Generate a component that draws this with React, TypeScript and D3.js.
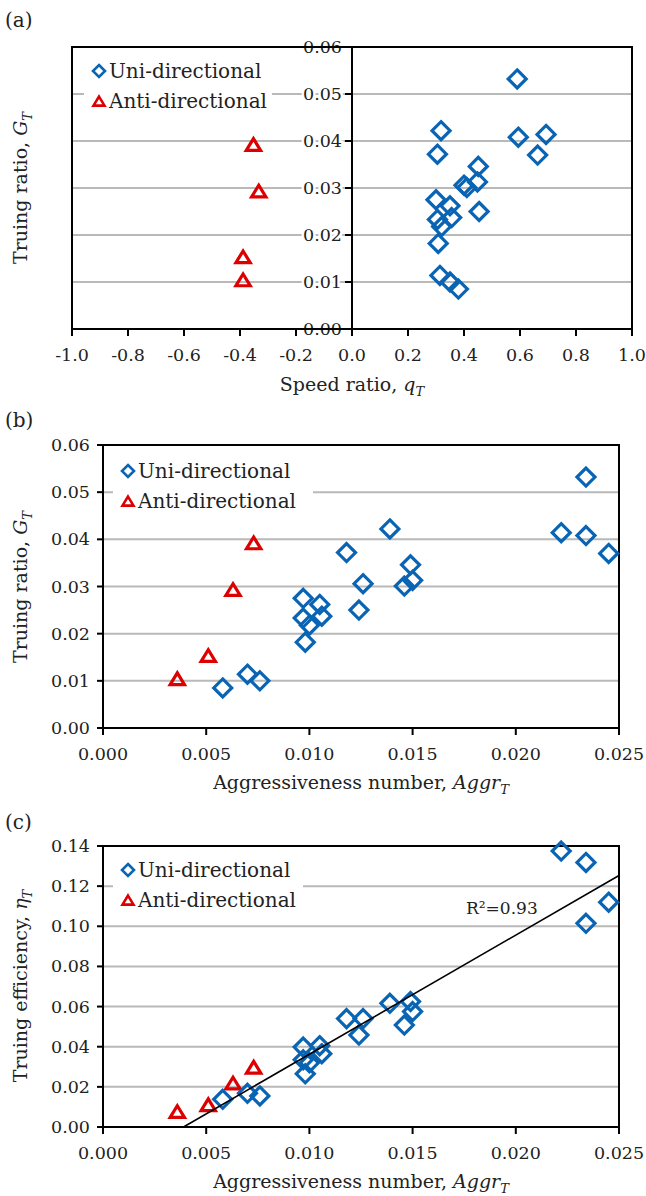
import React from "react";
import * as d3 from "d3";

// ---- data ----
const uniQ = [0.38, 0.314, 0.35, 0.308, 0.32, 0.305, 0.356, 0.35, 0.3, 0.454, 0.4, 0.41, 0.448, 0.451, 0.305, 0.318, 0.693, 0.594, 0.663, 0.59];
const uniAggr = [0.0058, 0.007, 0.0076, 0.0098, 0.01, 0.0097, 0.0106, 0.0105, 0.0097, 0.0124, 0.0126, 0.0146, 0.015, 0.0149, 0.0118, 0.0139, 0.0222, 0.0234, 0.0245, 0.0234];
const uniG = [0.0085, 0.0114, 0.01, 0.0182, 0.0218, 0.0233, 0.0237, 0.0262, 0.0275, 0.025, 0.0306, 0.0301, 0.0313, 0.0346, 0.0372, 0.0422, 0.0414, 0.0408, 0.037, 0.0532];
const uniEta = [0.0138, 0.0168, 0.0155, 0.0265, 0.032, 0.0335, 0.0365, 0.0405, 0.0398, 0.0458, 0.054, 0.0508, 0.0575, 0.0625, 0.054, 0.0616, 0.1375, 0.1318, 0.112, 0.1015];

const antiQ = [-0.389, -0.389, -0.333, -0.352];
const antiAggr = [0.0036, 0.0051, 0.0063, 0.0073];
const antiG = [0.0102, 0.0151, 0.0291, 0.039];
const antiEta = [0.0071, 0.0105, 0.0213, 0.0292];

const fitSlope = 5.94;
const fitIntercept = -0.02317;
const fitLabel = "R²=0.93";

const qTicks = [-1.0, -0.8, -0.6, -0.4, -0.2, 0.0, 0.2, 0.4, 0.6, 0.8, 1.0];
const aggrTicks = [0, 0.005, 0.01, 0.015, 0.02, 0.025];
const gTicks = [0, 0.01, 0.02, 0.03, 0.04, 0.05, 0.06];
const etaTicks = [0, 0.02, 0.04, 0.06, 0.08, 0.1, 0.12, 0.14];

const seriesNames = ["Uni-directional", "Anti-directional"];

// ---- styles ----
const BLUE = "#0a64b4";
const RED = "#dd0000";
const GRID = "#b9b9b9";
const FONT = "DejaVu Serif";

const diamondPath = (r: number) => `M0,${-r}L${r},0L0,${r}L${-r},0Z`;
const trianglePath = (s: number) => {
  const h = s * 0.9;
  return `M0,${-h * 0.6}L${s * 0.55},${h * 0.4}L${-s * 0.55},${h * 0.4}Z`;
};

function Diamond({ x, y, r = 9 }: { x: number; y: number; r?: number }) {
  return <path d={diamondPath(r)} transform={`translate(${x},${y})`} fill="none" stroke={BLUE} strokeWidth={3.2} strokeLinejoin="miter" />;
}
function Triangle({ x, y, s = 13 }: { x: number; y: number; s?: number }) {
  return <path d={trianglePath(s)} transform={`translate(${x},${y})`} fill="none" stroke={RED} strokeWidth={3.2} strokeLinejoin="miter" />;
}

function Legend({ x, y, w, h }: { x: number; y: number; w: number; h: number }) {
  return (
    <g>
      <rect x={x} y={y} width={w} height={h} fill="#fff" />
      <path d={diamondPath(6)} transform={`translate(${x + 15},${y + 16})`} fill="none" stroke={BLUE} strokeWidth={2.6} />
      <text x={x + 25} y={y + 23} fontSize={20} fontFamily={FONT} fill="#222">{seriesNames[0]}</text>
      <path d={trianglePath(10)} transform={`translate(${x + 15},${y + 47})`} fill="none" stroke={RED} strokeWidth={2.6} />
      <text x={x + 25} y={y + 53} fontSize={20} fontFamily={FONT} fill="#222">{seriesNames[1]}</text>
    </g>
  );
}

function SubTitle({ x, y, main, ital, rotate = false }: { x: number; y: number; main: string; ital: string; rotate?: boolean }) {
  return (
    <text
      x={x}
      y={y}
      textAnchor="middle"
      fontSize={19}
      fontFamily={FONT}
      fill="#222"
      transform={rotate ? `rotate(-90,${x},${y})` : undefined}
    >
      {main}
      <tspan fontStyle="italic">{ital}</tspan>
      <tspan fontStyle="italic" fontSize={13} dy={5}>T</tspan>
    </text>
  );
}

const halo = { paintOrder: "stroke" as const, stroke: "#fff", strokeWidth: 5 };

function PanelA() {
  const x = d3.scaleLinear().domain([-1, 1]).range([72, 632]);
  const y = d3.scaleLinear().domain([0, 0.06]).range([329, 47]);
  const x0 = x(0);
  return (
    <g>
      {gTicks.slice(1, -1).map((t) => (
        <line key={t} x1={x(-1)} x2={x(1)} y1={y(t)} y2={y(t)} stroke={GRID} strokeWidth={2} />
      ))}
      <Legend x={84} y={55} w={188} h={62} />
      {gTicks.map((t) => (
        <text key={t} x={x0 - 10} y={y(t) + 6} textAnchor="end" fontSize={17.5} fontFamily={FONT} fill="#222" style={halo}>
          {d3.format(".2f")(t)}
        </text>
      ))}
      <rect x={x(-1)} y={y(0.06)} width={x(1) - x(-1)} height={y(0) - y(0.06)} fill="none" stroke="#000" strokeWidth={2} />
      <line x1={x0} x2={x0} y1={y(0)} y2={y(0.06)} stroke="#000" strokeWidth={2} />
      {gTicks.map((t) => (
        <line key={t} x1={x0 - 7} x2={x0} y1={y(t)} y2={y(t)} stroke="#000" strokeWidth={2} />
      ))}
      {qTicks.map((t) => (
        <g key={t}>
          <line x1={x(t)} x2={x(t)} y1={y(0)} y2={y(0) + 7} stroke="#000" strokeWidth={2} />
          <text x={x(t)} y={y(0) + 32} textAnchor="middle" fontSize={17.5} fontFamily={FONT} fill="#222">
            {d3.format(".1f")(t).replace("−", "-")}
          </text>
        </g>
      ))}
      {antiQ.map((q, i) => (
        <Triangle key={"a" + i} x={x(q)} y={y(antiG[i])} />
      ))}
      {uniQ.map((q, i) => (
        <Diamond key={"u" + i} x={x(q)} y={y(uniG[i])} />
      ))}
      <SubTitle x={x0} y={391} main="Speed ratio, " ital="q" />
      <SubTitle x={27} y={188} main="Truing ratio, " ital="G" rotate />
      <text x={5} y={27} fontSize={20} fontFamily={FONT} fill="#222">(a)</text>
    </g>
  );
}

function PanelB() {
  const x = d3.scaleLinear().domain([0, 0.025]).range([103, 619]);
  const y = d3.scaleLinear().domain([0, 0.06]).range([728, 445]);
  return (
    <g>
      {gTicks.slice(1, -1).map((t) => (
        <line key={t} x1={x(0)} x2={x(0.025)} y1={y(t)} y2={y(t)} stroke={GRID} strokeWidth={2} />
      ))}
      <Legend x={113} y={455} w={200} h={62} />
      <rect x={x(0)} y={y(0.06)} width={x(0.025) - x(0)} height={y(0) - y(0.06)} fill="none" stroke="#000" strokeWidth={2} />
      {gTicks.map((t) => (
        <g key={t}>
          <line x1={x(0) - 6} x2={x(0)} y1={y(t)} y2={y(t)} stroke="#000" strokeWidth={2} />
          <text x={x(0) - 13} y={y(t) + 6} textAnchor="end" fontSize={17.5} fontFamily={FONT} fill="#222">
            {d3.format(".2f")(t)}
          </text>
        </g>
      ))}
      {aggrTicks.map((t) => (
        <g key={t}>
          <line x1={x(t)} x2={x(t)} y1={y(0)} y2={y(0) + 7} stroke="#000" strokeWidth={2} />
          <text x={x(t)} y={y(0) + 32} textAnchor="middle" fontSize={17.5} fontFamily={FONT} fill="#222">
            {d3.format(".3f")(t)}
          </text>
        </g>
      ))}
      {antiAggr.map((a, i) => (
        <Triangle key={"a" + i} x={x(a)} y={y(antiG[i])} />
      ))}
      {uniAggr.map((a, i) => (
        <Diamond key={"u" + i} x={x(a)} y={y(uniG[i])} />
      ))}
      <SubTitle x={361} y={789} main="Aggressiveness number, " ital="Aggr" />
      <SubTitle x={27} y={587} main="Truing ratio, " ital="G" rotate />
      <text x={5} y={427} fontSize={20} fontFamily={FONT} fill="#222">(b)</text>
    </g>
  );
}

function PanelC() {
  const x = d3.scaleLinear().domain([0, 0.025]).range([103, 619]);
  const y = d3.scaleLinear().domain([0, 0.14]).range([1127, 846]);
  const fitX0 = -fitIntercept / fitSlope;
  const fitData: [number, number][] = [fitX0, 0.025].map((a) => [a, fitSlope * a + fitIntercept]);
  const line = d3.line<[number, number]>().x((d) => x(d[0])).y((d) => y(d[1]));
  return (
    <g>
      {etaTicks.slice(1, -1).map((t) => (
        <line key={t} x1={x(0)} x2={x(0.025)} y1={y(t)} y2={y(t)} stroke={GRID} strokeWidth={2} />
      ))}
      <Legend x={113} y={854} w={190} h={62} />
      <rect x={x(0)} y={y(0.14)} width={x(0.025) - x(0)} height={y(0) - y(0.14)} fill="none" stroke="#000" strokeWidth={2} />
      {etaTicks.map((t) => (
        <g key={t}>
          <line x1={x(0) - 6} x2={x(0)} y1={y(t)} y2={y(t)} stroke="#000" strokeWidth={2} />
          <text x={x(0) - 13} y={y(t) + 6} textAnchor="end" fontSize={17.5} fontFamily={FONT} fill="#222">
            {d3.format(".2f")(t)}
          </text>
        </g>
      ))}
      {aggrTicks.map((t) => (
        <g key={t}>
          <line x1={x(t)} x2={x(t)} y1={y(0)} y2={y(0) + 7} stroke="#000" strokeWidth={2} />
          <text x={x(t)} y={y(0) + 32} textAnchor="middle" fontSize={17.5} fontFamily={FONT} fill="#222">
            {d3.format(".3f")(t)}
          </text>
        </g>
      ))}
      {antiAggr.map((a, i) => (
        <Triangle key={"a" + i} x={x(a)} y={y(antiEta[i])} />
      ))}
      {uniAggr.map((a, i) => (
        <Diamond key={"u" + i} x={x(a)} y={y(uniEta[i])} />
      ))}
      <path d={line(fitData) || ""} fill="none" stroke="#000" strokeWidth={1.6} />
      <text x={466} y={914} fontSize={17} fontFamily={FONT} fill="#222">{fitLabel}</text>
      <SubTitle x={361} y={1188} main="Aggressiveness number, " ital="Aggr" />
      <SubTitle x={27} y={986} main="Truing efficiency, " ital="η" rotate />
      <text x={5} y={829} fontSize={20} fontFamily={FONT} fill="#222">(c)</text>
    </g>
  );
}

export default function App() {
  return (
    <svg
      width={646}
      height={1196}
      viewBox="0 0 646 1196"
      style={{ position: "absolute", left: 0, top: 0, background: "#fff" }}
    >
      <rect x={0} y={0} width={646} height={1196} fill="#fff" />
      <PanelA />
      <PanelB />
      <PanelC />
    </svg>
  );
}
